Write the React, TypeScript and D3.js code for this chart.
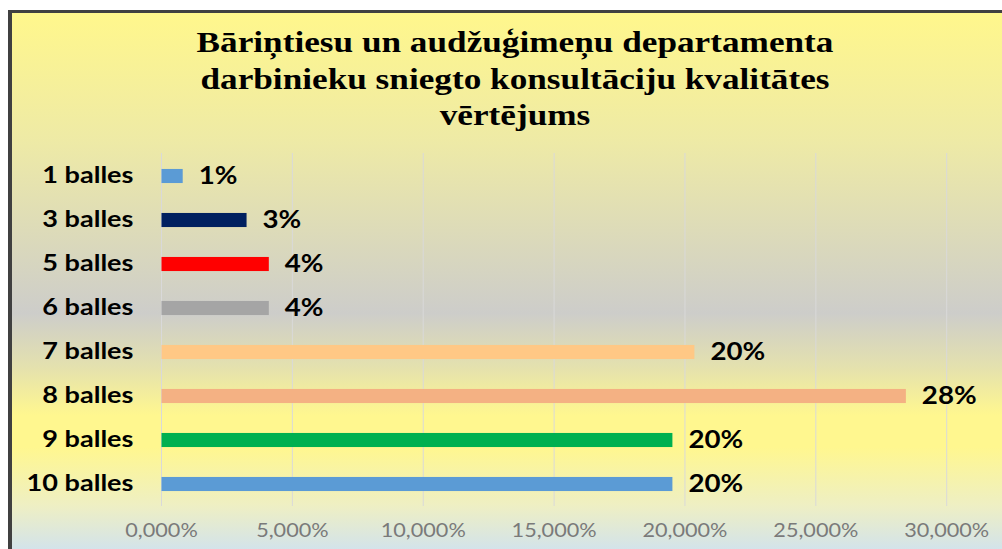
import React from "react";
import * as d3 from "d3";

const categories = ["1 balles", "3 balles", "5 balles", "6 balles", "7 balles", "8 balles", "9 balles", "10 balles"];
const values = [0.0081, 0.0325, 0.041, 0.041, 0.2036, 0.2844, 0.1952, 0.1952];
const barColors = ["#5B9BD5", "#002060", "#FF0000", "#A5A5A5", "#FFC885", "#F4B183", "#00B050", "#5B9BD5"];
const xTicks = [0, 0.05, 0.1, 0.15, 0.2, 0.25, 0.3];
const titleLines = [
  "Bāriņtiesu un audžuģimeņu departamenta",
  "darbinieku sniegto konsultāciju kvalitātes",
  "vērtējums",
];

const W = 1002;
const H = 549;

const locale = d3.formatLocale({ decimal: ",", thousands: " ", grouping: [3], currency: ["", "€"] });
const tickFmt = locale.format(".3%");
const valFmt = locale.format(".0%");

export default function App() {
  const x = d3.scaleLinear().domain([0, 0.3]).range([161.5, 946.7]);
  const y = d3
    .scaleBand<string>()
    .domain(categories)
    .range([154, 506])
    .paddingInner(0.68)
    .paddingOuter(0.34);
  const bw = y.bandwidth();

  return (
    <svg
      width={W}
      height={H}
      style={{ position: "absolute", left: 0, top: 0, display: "block" }}
    >
      <defs>
        <linearGradient id="bg" gradientUnits="userSpaceOnUse" x1={0} y1={13} x2={0} y2={549}>
          <stop offset={0} stopColor="#FFF78C" />
          <stop offset={0.24} stopColor="#EEEAA6" />
          <stop offset={0.56} stopColor="#CDCDCA" />
          <stop offset={0.66} stopColor="#E4E1AE" />
          <stop offset={0.75} stopColor="#FFF78F" />
          <stop offset={0.81} stopColor="#FFF78F" />
          <stop offset={0.92} stopColor="#EEEFC4" />
          <stop offset={1} stopColor="#D3E3EA" />
        </linearGradient>
      </defs>
      <rect x={0} y={0} width={W} height={H} fill="#FFFFFF" />
      <rect x={12} y={13} width={W - 12} height={H - 13} fill="url(#bg)" />
      <rect x={8} y={10} width={4} height={H - 10} fill="#404040" />
      <rect x={8} y={10} width={W - 8} height={3} fill="#404040" />

      {titleLines.map((t, i) => (
        <text
          key={i}
          transform={`translate(515, ${52 + i * 36.5}) scale(1.215, 1)`}
          textAnchor="middle"
          fontFamily="'Liberation Serif', 'Times New Roman', serif"
          fontWeight="bold"
          fontSize={29}
          fill="#000000"
        >
          {t}
        </text>
      ))}

      {xTicks.map((t) => (
        <line
          key={"g" + t}
          x1={x(t)}
          x2={x(t)}
          y1={153}
          y2={506}
          stroke="#D9D9D9"
          strokeWidth={1}
        />
      ))}

      {categories.map((c, i) => (
        <rect
          key={"b" + c}
          x={x(0)}
          y={y(c)}
          width={x(values[i]) - x(0)}
          height={bw}
          fill={barColors[i]}
        />
      ))}

      {categories.map((c) => (
        <text
          key={"c" + c}
          transform={`translate(133.5, ${(y(c) as number) + bw / 2 + 7.3}) scale(1.178, 1)`}
          textAnchor="end"
          fontFamily="Lato, 'Open Sans', sans-serif"
          fontWeight="bold"
          fontSize={23}
          fill="#000000"
        >
          {c}
        </text>
      ))}

      {categories.map((c, i) => (
        <text
          key={"v" + c}
          transform={`translate(${x(values[i]) + 16}, ${(y(c) as number) + bw / 2 + 8.2}) scale(1.107, 1)`}
          textAnchor="start"
          fontFamily="Lato, 'Open Sans', sans-serif"
          fontWeight="bold"
          fontSize={25}
          fill="#000000"
        >
          {valFmt(values[i])}
        </text>
      ))}

      {xTicks.map((t) => (
        <text
          key={"t" + t}
          transform={`translate(${x(t)}, 537) scale(1.11, 1)`}
          textAnchor="middle"
          fontFamily="Lato, 'Open Sans', sans-serif"
          fontSize={19.5}
          fill="#7A7A7A"
        >
          {tickFmt(t)}
        </text>
      ))}
    </svg>
  );
}
